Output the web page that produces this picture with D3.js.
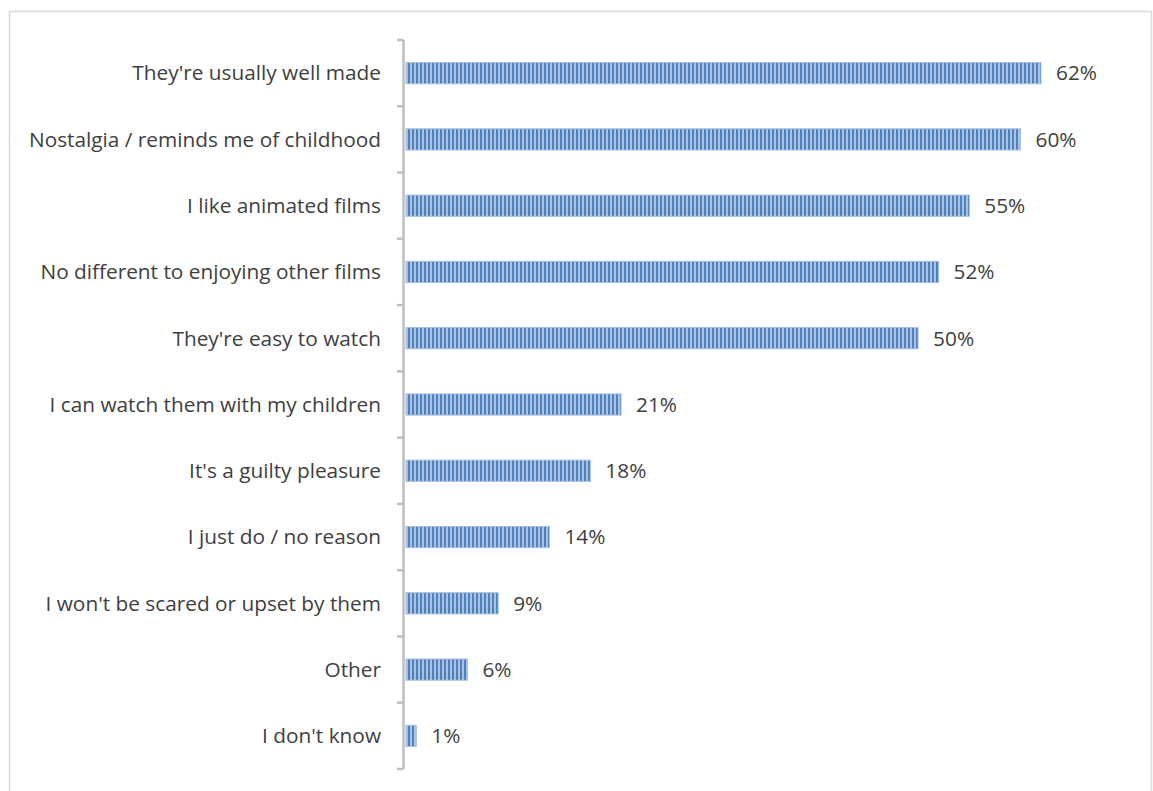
<!DOCTYPE html>
<html>
<head>
<meta charset="utf-8">
<script src="https://cdn.jsdelivr.net/npm/d3@7"></script>
<style>
  html, body { margin: 0; padding: 0; background: #fff; }
  svg { display: block; }
  text { font-family: "Open Sans", sans-serif; fill: #404040; }
</style>
</head>
<body>
<svg id="chart" width="1153" height="791"></svg>
<script>
// Reasons for enjoying animated films (share of respondents, %)
const categories = [
  "They're usually well made",
  "Nostalgia / reminds me of childhood",
  "I like animated films",
  "No different to enjoying other films",
  "They're easy to watch",
  "I can watch them with my children",
  "It's a guilty pleasure",
  "I just do / no reason",
  "I won't be scared or upset by them",
  "Other",
  "I don't know"
];
const values = [62, 60, 55, 52, 50, 21, 18, 14, 9, 6, 1];
const valueLabels = values.map(v => v + "%");

const svg = d3.select("#chart");

// outer chart frame
svg.append("rect")
  .attr("x", 9.5).attr("y", 11.5)
  .attr("width", 1142).attr("height", 800)
  .attr("fill", "#fff")
  .attr("stroke", "#d9d9d9")
  .attr("stroke-width", 1.5);

// striped fill for the bars
const defs = svg.append("defs");
const pat = defs.append("pattern")
  .attr("id", "stripes")
  .attr("patternUnits", "userSpaceOnUse")
  .attr("width", 4).attr("height", 4);
pat.append("rect").attr("x", 0).attr("y", 0).attr("width", 4).attr("height", 4).attr("fill", "#a9c2e2");
pat.append("rect").attr("x", 0).attr("y", 0).attr("width", 2).attr("height", 4).attr("fill", "#4f81bd");

const x0 = 405;
const x = d3.scaleLinear().domain([0, 62]).range([x0, 1040]);
const y = d3.scaleBand().domain(categories).range([40, 769]).paddingInner(0.68).paddingOuter(0.34);

// bars
svg.append("g").selectAll("rect")
  .data(values)
  .join("rect")
  .attr("x", x(0) + 1)
  .attr("y", (d, i) => y(categories[i]))
  .attr("width", d => x(d) - x(0))
  .attr("height", y.bandwidth())
  .attr("fill", "url(#stripes)")
  .attr("stroke", "#a3bfe0")
  .attr("stroke-width", 1);

// category axis with ticks at band boundaries
const bounds = d3.range(categories.length + 1).map(i => 40 + i * (729 / categories.length));
const axisG = svg.append("g");
axisG.append("line")
  .attr("x1", x0 - 1.5).attr("x2", x0 - 1.5)
  .attr("y1", bounds[0]).attr("y2", bounds[bounds.length - 1])
  .attr("stroke", "#bfbfbf").attr("stroke-width", 2.5);
axisG.selectAll("line.tick")
  .data(bounds)
  .join("line")
  .attr("class", "tick")
  .attr("x1", x0 - 8).attr("x2", x0 - 1.5)
  .attr("y1", d => d).attr("y2", d => d)
  .attr("stroke", "#bfbfbf").attr("stroke-width", 2.5);

// category labels
svg.append("g").selectAll("text")
  .data(categories)
  .join("text")
  .attr("x", 381)
  .attr("y", d => y(d) + y.bandwidth() / 2)
  .attr("dy", "0.35em")
  .attr("text-anchor", "end")
  .attr("font-size", 20.8)
  .text(d => d);

// value labels
svg.append("g").selectAll("text")
  .data(values)
  .join("text")
  .attr("x", d => x(d) + 16)
  .attr("y", (d, i) => y(categories[i]) + y.bandwidth() / 2)
  .attr("dy", "0.35em")
  .attr("font-size", 20.8)
  .text((d, i) => valueLabels[i]);
</script>
</body>
</html>
